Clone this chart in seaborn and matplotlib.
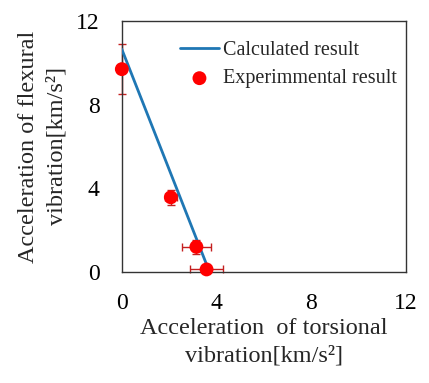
import numpy as np
import pandas as pd
import matplotlib
matplotlib.use("Agg")
import matplotlib.pyplot as plt
import seaborn as sns

# calculated result (straight line)
calc_x = [0.0, 3.6]
calc_y = [10.65, 0.3]

# experimental result with error bars
exp_x = [0.0, 2.07, 3.15, 3.58]
exp_y = [9.7, 3.57, 1.2, 0.12]
exp_xerr = [0.0, 0.25, 0.6, 0.7]
exp_yerr = [1.2, 0.35, 0.35, 0.0]

ticks = [0, 4, 8, 12]

sns.set_style("white")
plt.rcParams['font.family'] = ['Liberation Serif', 'DejaVu Serif']

fig = plt.figure(figsize=(4.29, 3.83), dpi=100)
ax = fig.add_axes([0.284, 0.290, 0.662, 0.655])

calc = pd.DataFrame({"x": calc_x, "y": calc_y})
exp = pd.DataFrame({"x": exp_x, "y": exp_y})

eb = ax.errorbar(exp_x, exp_y, xerr=exp_xerr, yerr=exp_yerr, fmt="none",
                 ecolor="#c42020", elinewidth=1.0, capsize=3, capthick=1.0, zorder=2)
for art in list(eb.lines[1]) + list(eb.lines[2]):
    art.set_clip_on(False)

sns.lineplot(data=calc, x="x", y="y", ax=ax, color="#1f77b4", linewidth=2,
             label="Calculated result", zorder=3)
sns.scatterplot(data=exp, x="x", y="y", ax=ax, color="#ff0000", s=100,
                edgecolor="none", label="Experimmental result", zorder=4,
                clip_on=False)

ax.set_xlim(0, 12)
ax.set_ylim(0, 12)
ax.set_xticks(ticks)
ax.set_yticks(ticks)
ax.tick_params(direction="in", length=6, width=1, labelsize=17, colors="black", pad=16)
ax.tick_params(axis="x", pad=15)
for s in ax.spines.values():
    s.set_color("#333333")
    s.set_linewidth(1)

ax.set_xlabel("Acceleration  of torsional\nvibration[km/s²]", fontsize=17.5,
              linespacing=1.4, labelpad=3)
ax.set_ylabel("Acceleration of flexural\nvibration[km/s²]", fontsize=17.5,
              linespacing=1.45, labelpad=6)

ax.legend(loc="upper right", frameon=False, fontsize=14.5, handlelength=1.9,
          handletextpad=0.2, borderaxespad=0.6, labelspacing=0.45,
          bbox_to_anchor=(1.038, 1.0))

fig.savefig("out.png", dpi=100)
